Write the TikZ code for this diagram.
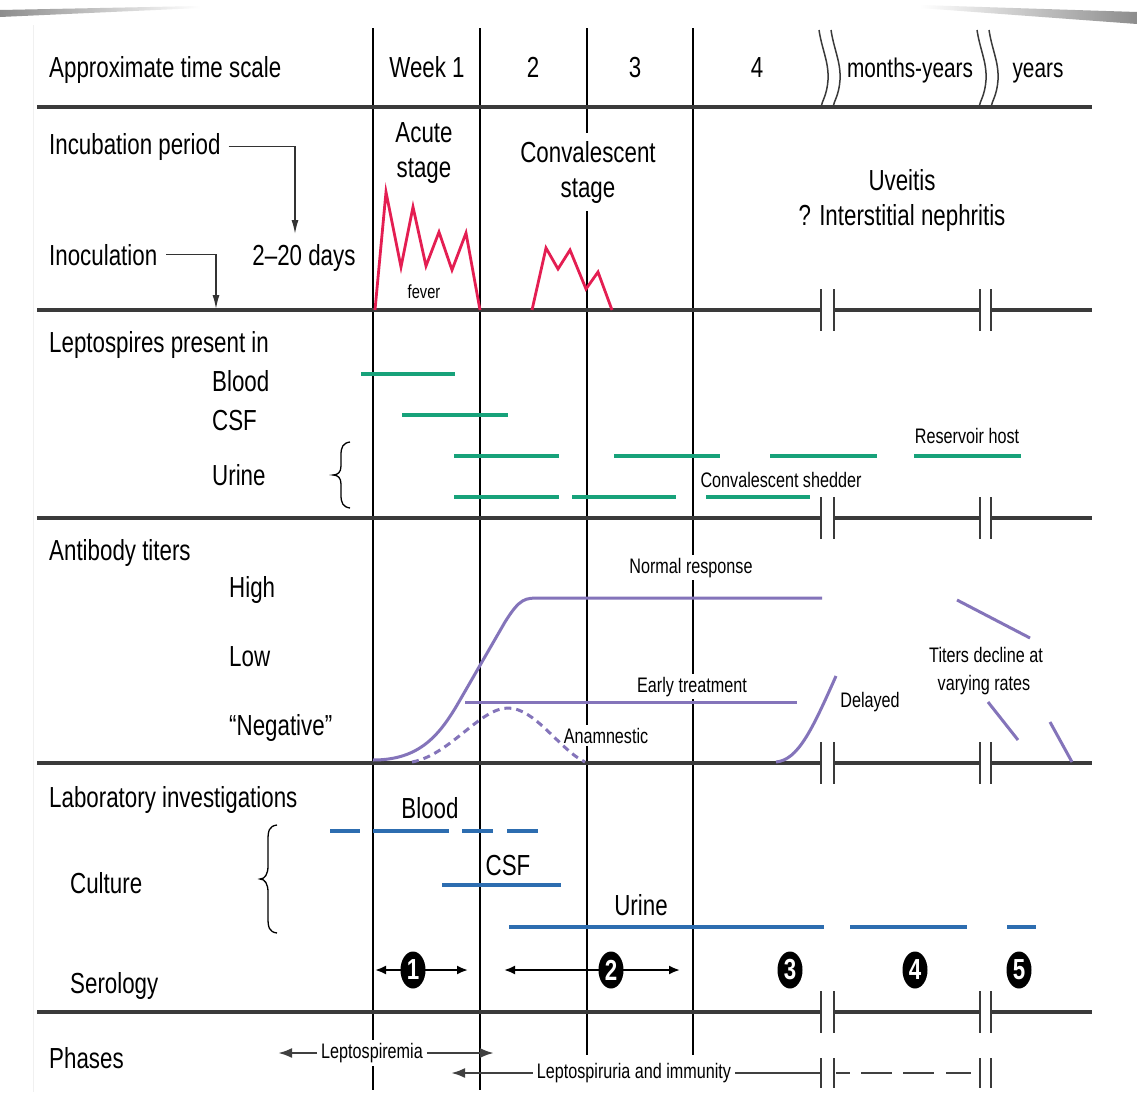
\documentclass[tikz,border=0pt]{standalone}
\usepackage{fontspec}
\newfontfamily\lab{Liberation Sans}[FakeStretch=0.77]
\usetikzlibrary{arrows.meta,shapes.geometric}
\definecolor{feverred}{HTML}{E41E52}
\definecolor{leptogreen}{HTML}{17A27A}
\definecolor{titerpurple}{HTML}{8474BA}
\definecolor{labblue}{HTML}{2D6DB0}
\definecolor{rulegray}{HTML}{3A3A3A}
\begin{document}
\begin{tikzpicture}[x=1pt,y=-1pt,
  lblA/.style={font=\lab\fontsize{29}{33}\selectfont, inner sep=0pt, anchor=base},
  lblW/.style={lblA, anchor=base west},
  lblM/.style={font=\lab\fontsize{27}{31}\selectfont, inner sep=0pt, anchor=base},
  lblS/.style={font=\lab\fontsize{21}{24}\selectfont, inner sep=0pt, anchor=base},
  lblF/.style={font=\lab\fontsize{19}{22}\selectfont, inner sep=0pt, anchor=base},
  knock/.style={fill=white, inner xsep=4pt, inner ysep=3pt},
  hrule/.style={line width=3.5pt, draw=rulegray},
  vrule/.style={line width=1.3pt, draw=black},
  brk/.style={line width=1.8pt, draw=rulegray},
  ptr/.style={line width=1.5pt, draw=black!80, -{Latex[length=14pt,width=7pt]}},
  fev/.style={line width=2.8pt, draw=feverred, line join=miter},
  grn/.style={line width=4pt, draw=leptogreen},
  pur/.style={line width=3pt, draw=titerpurple},
  blu/.style={line width=4pt, draw=labblue},
  brace/.style={line width=1.3pt, draw=black},
  dbl/.style={line width=2pt, draw=black, {Latex[length=11pt,width=9pt]}-{Latex[length=11pt,width=9pt]}},
  ser/.style={ellipse, fill=black, minimum width=25pt, minimum height=37pt, inner sep=0pt, text=white, font=\lab\bfseries\fontsize{29}{29}\selectfont},
  phase/.style={line width=2.5pt, draw=black!75, -{Latex[length=14pt,width=10pt]}},
  phaseline/.style={line width=2.5pt, draw=black!75}
]
\useasboundingbox (0,0) rectangle (1137,1092);
\fill[white] (0,0) rectangle (1137,1092);
% page shadows
\shade[left color=black!45, right color=white] (0,10) -- (200,6) -- (200,8) -- (0,17) -- cycle;
\shade[left color=white, right color=black!45] (920,5) -- (1137,12) -- (1137,24) -- (920,8) -- cycle;
\draw[black!6, line width=1pt] (33,25) -- (33,1092);

% vertical week lines
\draw[vrule] (373,28) -- (373,1090);
\draw[vrule] (480,28) -- (480,1090);
\draw[vrule] (587,28) -- (587,1055);
\draw[vrule] (693,28) -- (693,1055);

% horizontal rules
\draw[hrule] (37,107) -- (1092,107);
\foreach \y in {310,518,763,1012} {
  \draw[hrule] (37,\y) -- (821,\y);
  \draw[hrule] (834,\y) -- (980,\y);
  \draw[hrule] (991,\y) -- (1092,\y);
  \foreach \x in {821,834,980,991} \draw[brk] (\x,\y-21) -- (\x,\y+21);
}
% time-break squiggles
\foreach \x in {820,832,978,990}
  \draw[brk, line width=1.5pt] (\x-1,30) .. controls (\x+2,50) and (\x+9,62) .. (\x+8,80) .. controls (\x+7,95) and (\x+2,101) .. (\x+1,107);

% row 1
\node[lblW] (tscale) at (49,77) {Approximate time scale};
\node[lblA] (wk1) at (427,77) {Week 1};
\node[lblA] (wk2) at (533,77) {2};
\node[lblA] (wk3) at (635,77) {3};
\node[lblA] (wk4) at (757,77) {4};
\node[lblM] (monyr) at (910,77) {months-years};
\node[lblM] (yrs) at (1038,77) {years};

% row 2
\node[lblW] (incub) at (49,154) {Incubation period};
\node[lblA] (days) at (304,265) {2–20 days};
\node[lblW] (inoc) at (49,265) {Inoculation};
\coordinate (incend) at (295,234);
\coordinate (inoend) at (216,309);
\draw[ptr] ([xshift=8pt]incub.east) -| (incend);
\draw[ptr] ([xshift=9pt]inoc.east) -| (inoend);
\node[lblA] (acute1) at (424,142) {Acute};
\node[lblA] (acute2) at (424,177) {stage};
\node[lblA, knock, inner ysep=8pt] (conv1) at (588,162) {Convalescent};
\node[lblA, knock, inner ysep=8pt] (conv2) at (588,197) {stage};
\node[lblA] (uve1) at (902,190) {Uveitis};
\node[lblA] (uve2) at (902,225) {? Interstitial nephritis};
\node[lblF] (fever) at (424,298) {fever};
\draw[fev] (375,310) -- (386,192) -- (401,267) -- (413,207) -- (426,266) -- (439,232) -- (452,270) -- (466,233) -- (480,310);
\draw[fev] (532,310) -- (546,248) -- (558,269) -- (570,250) -- (586,289) -- (598,272) -- (612,310);

% row 3
\node[lblW] (lpi) at (49,352) {Leptospires present in};
\node[lblW] (lblood) at (212,391) {Blood};
\node[lblW] (lcsf) at (212,430) {CSF};
\node[lblW] (lurine) at (212,485) {Urine};
\draw[brace] (350,442) .. controls (343,443) and (341,447) .. (341,455) -- (341,466) .. controls (341,472) and (338,475) .. (333,475) .. controls (338,475) and (341,478) .. (341,484) -- (341,495) .. controls (341,503) and (343,507) .. (350,508);
\draw[grn] (361,374) -- (455,374);
\draw[grn] (402,415) -- (508,415);
\draw[grn] (454,456) -- (559,456);
\draw[grn] (614,456) -- (720,456);
\draw[grn] (770,456) -- (877,456);
\draw[grn] (914,456) -- (1021,456);
\draw[grn] (454,497) -- (559,497);
\draw[grn] (572,497) -- (676,497);
\draw[grn] (706,497) -- (810,497);
\node[lblS] (reshost) at (967,443) {Reservoir host};
\node[lblS] (convshed) at (781,487) {Convalescent shedder};

% row 4
\node[lblW] (abt) at (49,560) {Antibody titers};
\node[lblW] (high) at (229,597) {High};
\node[lblW] (low) at (229,666) {Low};
\node[lblW] (neg) at (229,735) {“Negative”};
\node[lblS, knock] (normresp) at (691,573) {Normal response};
\node[lblS, knock] (earlyt) at (692,692) {Early treatment};
\node[lblS, knock] (anam) at (606,743) {Anamnestic};
\node[lblS] (delayed) at (870,707) {Delayed};
\node[lblS] (titers1) at (986,662) {Titers decline at};
\node[lblS] (titers2) at (984,690) {varying rates};
\draw[pur] (373,760) .. controls (420,760) and (440,735) .. (460,700) -- (505,622) .. controls (520,598) and (525,598) .. (540,598) -- (822,598);
\draw[pur] (465,702) -- (797,702);
\draw[pur, dash pattern=on 7pt off 5pt] (412,762) .. controls (450,755) and (480,708) .. (508,708) .. controls (535,708) and (560,750) .. (585,762);
\draw[pur] (776,762) .. controls (798,760) and (812,730) .. (836,676);
\draw[pur] (957,600) -- (1030,638);
\draw[pur] (988,702) -- (1018,740);
\draw[pur] (1050,722) -- (1072,762);

% row 5
\node[lblW] (labinv) at (49,807) {Laboratory investigations};
\node[lblW] (cult) at (70,893) {Culture};
\node[lblW] (sero) at (70,993) {Serology};
\draw[brace] (277,825) .. controls (269,826) and (268,831) .. (268,840) -- (268,866) .. controls (268,874) and (265,879) .. (260,879) .. controls (265,879) and (268,884) .. (268,892) -- (268,918) .. controls (268,927) and (269,932) .. (277,933);
\draw[blu] (330,831) -- (360,831);
\draw[blu] (373,831) -- (449,831);
\draw[blu] (462,831) -- (493,831);
\draw[blu] (507,831) -- (538,831);
\draw[blu] (442,885) -- (561,885);
\draw[blu] (509,927) -- (824,927);
\draw[blu] (850,927) -- (967,927);
\draw[blu] (1007,927) -- (1036,927);
\node[lblA] (cblood) at (430,818) {Blood};
\node[lblA] (ccsf) at (508,875) {CSF};
\node[lblA] (curine) at (641,915) {Urine};
\coordinate (a1l) at (375,970);
\coordinate (a1r) at (468,970);
\coordinate (a2l) at (504,970);
\coordinate (a2r) at (680,970);
\draw[dbl] (a1l) -- (a1r);
\draw[dbl] (a2l) -- (a2r);
\node[ser] (s1) at (413,970) {1};
\node[ser] (s2) at (611,970) {2};
\node[ser] (s3) at (790,970) {3};
\node[ser] (s4) at (915,970) {4};
\node[ser] (s5) at (1019,970) {5};

% row 6
\node[lblW] (phases) at (49,1068) {Phases};
\node[lblS, knock, anchor=center] (lsp) at (372,1053) {Leptospiremia};
\coordinate (lspL) at (278,1053);
\coordinate (lspR) at (494,1053);
\draw[phase] (lsp.west) -- (lspL);
\draw[phase] (lsp.east) -- (lspR);
\node[lblS, knock, anchor=center] (lsu) at (634,1073) {Leptospiruria and immunity};
\coordinate (lsuL) at (451,1073);
\coordinate (lsuR) at (821,1073);
\draw[phase] (lsu.west) -- (lsuL);
\draw[phaseline] (lsu.east) -- (lsuR);
\draw[phaseline] (836,1073) -- (850,1073);
\draw[phaseline] (861,1073) -- (892,1073);
\draw[phaseline] (903,1073) -- (934,1073);
\draw[phaseline] (946,1073) -- (971,1073);
\foreach \x in {821,834,980,991} \draw[brk] (\x,1058) -- (\x,1088);
\end{tikzpicture}
\end{document}
